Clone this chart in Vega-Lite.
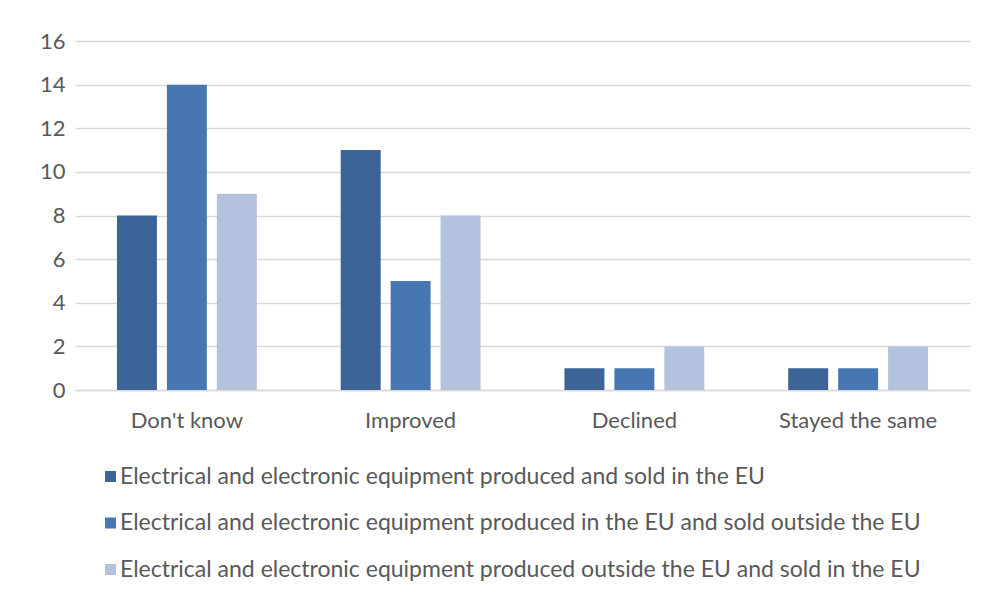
{
  "$schema": "https://vega.github.io/schema/vega-lite/v6.json",
  "width": 895,
  "height": 349,
  "autosize": "none",
  "padding": {"left": 75, "top": 41, "right": 20, "bottom": 212},
  "background": "white",
  "data": {
    "values": [
      {"category": "Don't know", "series": "Electrical and electronic equipment produced and sold in the EU", "value": 8},
      {"category": "Don't know", "series": "Electrical and electronic equipment produced in the EU and sold outside the EU", "value": 14},
      {"category": "Don't know", "series": "Electrical and electronic equipment produced outside the EU and sold in the EU", "value": 9},
      {"category": "Improved", "series": "Electrical and electronic equipment produced and sold in the EU", "value": 11},
      {"category": "Improved", "series": "Electrical and electronic equipment produced in the EU and sold outside the EU", "value": 5},
      {"category": "Improved", "series": "Electrical and electronic equipment produced outside the EU and sold in the EU", "value": 8},
      {"category": "Declined", "series": "Electrical and electronic equipment produced and sold in the EU", "value": 1},
      {"category": "Declined", "series": "Electrical and electronic equipment produced in the EU and sold outside the EU", "value": 1},
      {"category": "Declined", "series": "Electrical and electronic equipment produced outside the EU and sold in the EU", "value": 2},
      {"category": "Stayed the same", "series": "Electrical and electronic equipment produced and sold in the EU", "value": 1},
      {"category": "Stayed the same", "series": "Electrical and electronic equipment produced in the EU and sold outside the EU", "value": 1},
      {"category": "Stayed the same", "series": "Electrical and electronic equipment produced outside the EU and sold in the EU", "value": 2}
    ]
  },
  "mark": {"type": "bar"},
  "encoding": {
    "x": {
      "field": "category",
      "type": "nominal",
      "sort": ["Don't know", "Improved", "Declined", "Stayed the same"],
      "scale": {"paddingInner": 0, "paddingOuter": 0},
      "axis": {
        "title": null,
        "labelAngle": 0,
        "ticks": false,
        "domainColor": "#D9D9D9",
        "domainWidth": 1.5,
        "labelPadding": 20,
        "labelFont": "Lato",
        "labelFontSize": 22,
        "labelColor": "#595959"
      }
    },
    "xOffset": {
      "field": "series",
      "type": "nominal",
      "scale": {"paddingInner": 0.2, "paddingOuter": 0.84}
    },
    "y": {
      "field": "value",
      "type": "quantitative",
      "scale": {"domain": [0, 16]},
      "axis": {
        "title": null,
        "values": [0, 2, 4, 6, 8, 10, 12, 14, 16],
        "domain": false,
        "ticks": false,
        "gridColor": "#D9D9D9",
        "gridWidth": 1.5,
        "labelPadding": 10,
        "labelFont": "Lato",
        "labelFontSize": 22,
        "labelColor": "#595959"
      }
    },
    "color": {
      "field": "series",
      "type": "nominal",
      "scale": {
        "domain": [
          "Electrical and electronic equipment produced and sold in the EU",
          "Electrical and electronic equipment produced in the EU and sold outside the EU",
          "Electrical and electronic equipment produced outside the EU and sold in the EU"
        ],
        "range": ["#3C6496", "#4677B0", "#B3C2DD"]
      },
      "legend": {
        "title": null,
        "orient": "none",
        "legendX": 24,
        "legendY": 424,
        "direction": "vertical",
        "symbolType": "square",
        "symbolSize": 121,
        "symbolStrokeWidth": 0,
        "labelFont": "Lato",
        "labelFontSize": 23,
        "labelColor": "#595959",
        "labelLimit": 900,
        "rowPadding": 22.5,
        "labelOffset": -2
      }
    }
  },
  "config": {"view": {"stroke": null}}
}
